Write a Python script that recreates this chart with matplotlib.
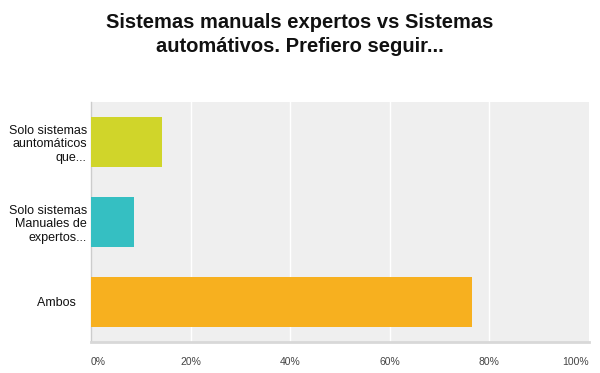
import matplotlib.pyplot as plt

plt.rcParams['font.family'] = ['Liberation Sans', 'DejaVu Sans']

categories = ["Solo sistemas\nauntomáticos\nque...", "Solo sistemas\nManuales de\nexpertos...", "Ambos   "]
values = [14.3, 8.6, 76.5]
colors = ["#d0d52a", "#35bfc2", "#f7b01f"]
xticks = [0, 20, 40, 60, 80, 100]
xtick_labels = ["0%", "20%", "40%", "60%", "80%", "100%"]

fig = plt.figure(figsize=(6, 3.73), dpi=100)
ax = fig.add_axes([91 / 600, 31 / 373, 498 / 600, 240 / 373])
ax.set_facecolor("#efefef")

ypos = list(range(len(categories)))
ax.barh(ypos, values, height=0.625, color=colors, zorder=3)
ax.set_ylim(2.5, -0.5)
ax.set_xlim(0, 100)

for x in xticks[1:-1]:
    ax.axvline(x, color="white", lw=1, zorder=1)

ax.set_yticks(ypos)
ax.set_yticklabels(categories, fontsize=9, color="#111111", ha="right",
                   multialignment="right", linespacing=1.15)
ax.tick_params(axis="y", length=0, pad=3)
ax.set_xticks(xticks)
ax.set_xticklabels(xtick_labels, fontsize=7.5, color="#444444")
ax.tick_params(axis="x", length=0, pad=11)
xl = ax.get_xticklabels()
xl[0].set_ha("left")
xl[-1].set_ha("right")

for s in ["top", "right"]:
    ax.spines[s].set_visible(False)
ax.spines["left"].set_color("#cccccc")
ax.spines["left"].set_linewidth(1)
ax.spines["bottom"].set_color("#d8d8d8")
ax.spines["bottom"].set_linewidth(2)

fig.text(0.5, 0.908, "Sistemas manuals expertos vs Sistemas\nautomátivos. Prefiero seguir...",
         ha="center", va="center", fontsize=14.5, fontweight="bold", color="#111111", linespacing=1.3)

fig.savefig("out.png", dpi=100)
